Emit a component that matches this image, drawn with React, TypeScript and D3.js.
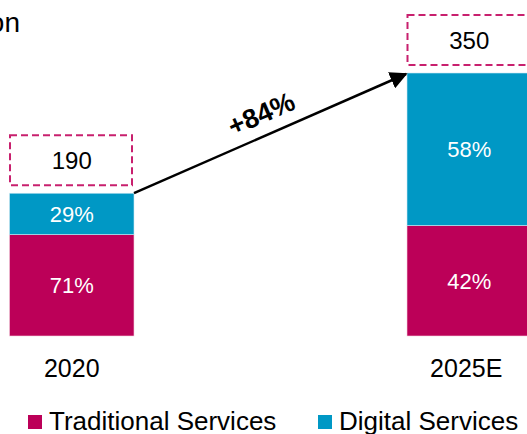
import { scaleBand, scaleLinear } from "d3";

const years = ["2020", "2025E"];
const totals = [190, 350];
const traditionalShare = [71, 42];
const digitalShare = [29, 58];
const growthLabel = "+84%";
const seriesNames = ["Traditional Services", "Digital Services"];
const titleTail = "on";

const width = 527;
const height = 434;
const colors = ["#bc0058", "#0098c5"];
const dashColor = "#c8206e";
const font = "'Liberation Sans', Arial, sans-serif";

const baseline = 336;

const App = () => {
  const xScale = scaleBand<string>()
    .domain(years)
    .range([9.5, 531.5])
    .paddingInner(0.6868)
    .paddingOuter(0);

  const yScale = scaleLinear().domain([0, 350]).range([baseline, 73]);

  const bw = xScale.bandwidth();

  // arrow from top-right of first bar to top-left of second bar
  const x1 = xScale(years[0])! + bw;
  const y1 = yScale(totals[0]);
  const x2 = xScale(years[1])! - 1;
  const y2 = yScale(totals[1]) + 1;
  const angle = (Math.atan2(y2 - y1, x2 - x1) * 180) / Math.PI;
  const mx = (x1 + x2) / 2;
  const my = (y1 + y2) / 2;
  const rad = (angle * Math.PI) / 180;
  const off = 22;
  const lx = mx + off * Math.sin(rad);
  const ly = my - off * Math.cos(rad);

  return (
    <svg
      width={width}
      height={height}
      style={{ position: "absolute", left: 0, top: 0, background: "#fff" }}
      fontFamily={font}
    >
      <defs>
        <marker
          id="arrowHead"
          viewBox="0 0 10 10"
          refX={9}
          refY={5}
          markerWidth={7}
          markerHeight={7}
          orient="auto"
          markerUnits="strokeWidth"
        >
          <path d="M0,0 L10,5 L0,10 z" fill="#000" />
        </marker>
      </defs>

      <text x={20} y={32} fontSize={28} textAnchor="end" fill="#000">
        {titleTail}
      </text>

      {years.map((year, i) => {
        const x = xScale(year)!;
        const total = totals[i];
        const tradTop = yScale((total * traditionalShare[i]) / 100);
        const top = yScale(total);
        return (
          <g key={year}>
            <rect
              x={x}
              y={tradTop}
              width={bw}
              height={baseline - tradTop}
              fill={colors[0]}
              stroke="#f3d0de"
              strokeWidth={0.6}
            />
            <rect
              x={x}
              y={top}
              width={bw}
              height={tradTop - top}
              fill={colors[1]}
              stroke="#cde9f3"
              strokeWidth={0.6}
            />
            <text
              x={x + bw / 2}
              y={(tradTop + baseline) / 2}
              dy="0.36em"
              textAnchor="middle"
              fill="#fff"
              fontSize={22}
            >
              {traditionalShare[i]}%
            </text>
            <text
              x={x + bw / 2}
              y={(top + tradTop) / 2}
              dy="0.36em"
              textAnchor="middle"
              fill="#fff"
              fontSize={22}
            >
              {digitalShare[i]}%
            </text>
            <rect
              x={x + 0.5}
              y={top - 58}
              width={bw - 2.5}
              height={50}
              fill="none"
              stroke={dashColor}
              strokeWidth={2}
              strokeDasharray="7 4"
            />
            <text
              x={x + bw / 2}
              y={top - 33}
              dy="0.36em"
              textAnchor="middle"
              fill="#000"
              fontSize={24}
            >
              {total}
            </text>
            <text
              x={x + bw / 2 - (i === 1 ? 3 : 0)}
              y={377}
              textAnchor="middle"
              fill="#000"
              fontSize={25}
            >
              {year}
            </text>
          </g>
        );
      })}

      <line
        x1={x1}
        y1={y1}
        x2={x2}
        y2={y2}
        stroke="#000"
        strokeWidth={2.5}
        markerEnd="url(#arrowHead)"
      />
      <text
        x={lx}
        y={ly}
        dy="0.36em"
        textAnchor="middle"
        fontWeight="bold"
        fontSize={27}
        fill="#000"
        transform={`rotate(${angle},${lx},${ly})`}
      >
        {growthLabel}
      </text>

      {seriesNames.map((name, i) => {
        const lxPos = i === 0 ? 28 : 318;
        return (
          <g key={name} transform={`translate(${lxPos},415)`}>
            <rect width={14} height={14} fill={colors[i]} />
            <text x={21} y={15} fontSize={26} fill="#000">
              {name}
            </text>
          </g>
        );
      })}
    </svg>
  );
};

export default App;
